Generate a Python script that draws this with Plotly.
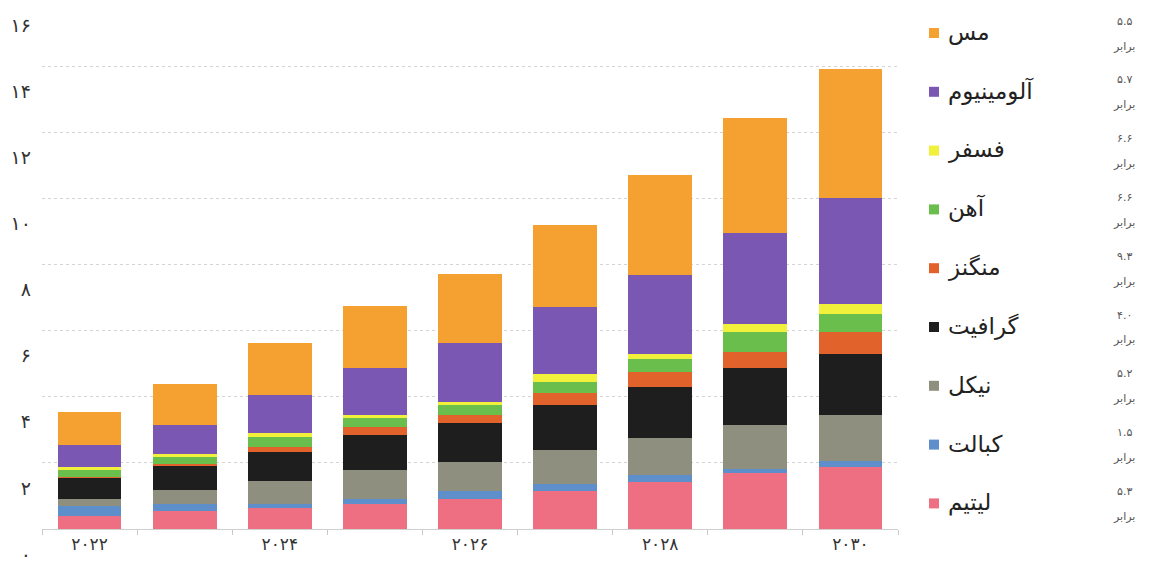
import plotly.graph_objects as go

# ---------------- data ----------------
years = ["2022", "2023", "2024", "2025", "2026", "2027", "2028", "2029", "2030"]
year_labels = ["۲۰۲۲", "", "۲۰۲۴", "", "۲۰۲۶", "", "۲۰۲۸", "", "۲۰۳۰"]

lithium    = [0.40, 0.55, 0.64, 0.76, 0.92, 1.16, 1.41, 1.68, 1.87]
cobalt     = [0.30, 0.21, 0.12, 0.15, 0.24, 0.21, 0.21, 0.15, 0.20]
nickel     = [0.21, 0.43, 0.70, 0.86, 0.86, 1.01, 1.13, 1.31, 1.38]
graphite   = [0.64, 0.73, 0.86, 1.07, 1.19, 1.38, 1.53, 1.74, 1.83]
manganese  = [0.03, 0.06, 0.15, 0.24, 0.24, 0.34, 0.46, 0.46, 0.67]
iron       = [0.20, 0.21, 0.30, 0.30, 0.30, 0.34, 0.40, 0.61, 0.55]
phosphorus = [0.10, 0.09, 0.12, 0.06, 0.09, 0.24, 0.15, 0.24, 0.30]
aluminum   = [0.67, 0.86, 1.16, 1.44, 1.80, 2.02, 2.39, 2.75, 3.20]
copper     = [0.98, 1.25, 1.59, 1.87, 2.08, 2.48, 3.03, 3.49, 3.90]

series_names = ["لیتیم", "کبالت", "نیکل", "گرافیت", "منگنز", "آهن", "فسفر", "آلومینیوم", "مس"]
series_values = [lithium, cobalt, nickel, graphite, manganese, iron, phosphorus, aluminum, copper]
series_colors = ["#EE6E82", "#5E8FCB", "#8F8F80", "#1E1E1E", "#E2622B",
                 "#69BE4C", "#F1F03A", "#7A57B2", "#F5A132"]
multipliers = ["۵.۳", "۱.۵", "۵.۲", "۴.۰", "۹.۳", "۶.۶", "۶.۶", "۵.۷", "۵.۵"]

y_tickvals = [0, 2, 4, 6, 8, 10, 12, 14, 16]
y_ticktext = ["۰", "۲", "۴", "۶", "۸", "۱۰", "۱۲", "۱۴", "۱۶"]

# ---------------- figure ----------------
W, H = 1154, 568
ML, MR, MT, MB = 42, 256, 0, 39
fig = go.Figure()
for name, vals, col in zip(series_names, series_values, series_colors):
    fig.add_trace(go.Bar(x=years, y=vals, name=name, marker=dict(color=col, line=dict(width=0)),
                         showlegend=False))

FONT = "DejaVu Sans"
fig.update_layout(
    width=W, height=H, barmode="stack", bargap=0.33,
    margin=dict(l=ML, r=MR, t=MT, b=MB),
    plot_bgcolor="white", paper_bgcolor="white",
    font=dict(family=FONT, color="#333"),
    xaxis=dict(type="category", tickvals=years, ticktext=year_labels,
               tickson="boundaries", ticks="outside", ticklen=5, tickcolor="#c8c8c8",
               showline=True, linecolor="#cfcfcf", linewidth=1, showgrid=False,
               tickfont=dict(size=17, color="#333"), range=[-0.5, 8.5]),
    yaxis=dict(range=[0, 16], tickvals=y_tickvals, ticktext=y_ticktext,
               showgrid=True, gridcolor="#d4d4d4", griddash="dot", gridwidth=1,
               zeroline=False, showline=False, ticks="",
               ticklabelshift=25, ticklabelstandoff=10,
               tickfont=dict(size=19, color="#333")),
)

# ---------------- custom legend (right side) ----------------
plot_w = W - ML - MR
plot_h = H - MT - MB

def px_to_paper_x(px):
    return (px - ML) / plot_w

def px_to_paper_y(py):
    return (H - MB - py) / plot_h

row0, step = 33, 58.8
for i, (name, col, mult) in enumerate(zip(series_names[::-1], series_colors[::-1], multipliers[::-1])):
    yc = row0 + i * step
    # colour square
    fig.add_shape(type="rect", xref="paper", yref="paper",
                  x0=px_to_paper_x(929), x1=px_to_paper_x(939),
                  y0=px_to_paper_y(yc + 5), y1=px_to_paper_y(yc - 5),
                  fillcolor=col, line=dict(width=0))
    fig.add_annotation(xref="paper", yref="paper", x=px_to_paper_x(946), y=px_to_paper_y(yc - 1),
                       text=name, showarrow=False, xanchor="left", yanchor="middle",
                       font=dict(family=FONT, size=23, color="#222"))
    fig.add_annotation(xref="paper", yref="paper", x=px_to_paper_x(1124), y=px_to_paper_y(yc - 12),
                       text=mult, showarrow=False, xanchor="center", yanchor="middle",
                       font=dict(family=FONT, size=11, color="#555"))
    fig.add_annotation(xref="paper", yref="paper", x=px_to_paper_x(1124), y=px_to_paper_y(yc + 13),
                       text="برابر", showarrow=False, xanchor="center", yanchor="middle",
                       font=dict(family=FONT, size=11, color="#555"))

fig.write_html("out.html")
